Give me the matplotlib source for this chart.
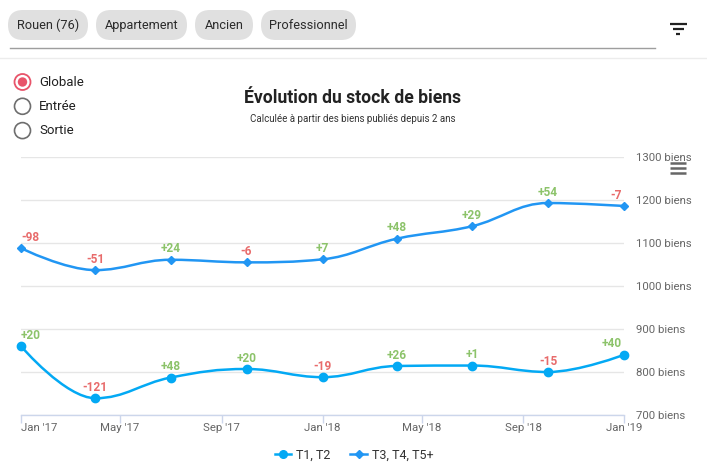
import datetime as dt
import matplotlib
matplotlib.use('Agg')
import matplotlib.pyplot as plt
import matplotlib.dates as mdates
from matplotlib.path import Path
from matplotlib.patches import PathPatch, FancyBboxPatch, Circle
from matplotlib.lines import Line2D

plt.rcParams['font.family'] = ['Roboto', 'DejaVu Sans']

# data
dates = ['2017-01-01', '2017-04-01', '2017-07-01', '2017-10-01', '2018-01-01',
         '2018-04-01', '2018-07-01', '2018-10-01', '2019-01-01']
t12 = [860, 739, 787, 807, 788, 814, 815, 800, 840]
t12_diff = ['+20', '-121', '+48', '+20', '-19', '+26', '+1', '-15', '+40']
t345 = [1088, 1037, 1061, 1055, 1062, 1110, 1139, 1193, 1186]
t345_diff = ['-98', '-51', '+24', '-6', '+7', '+48', '+29', '+54', '-7']
series_names = ['T1, T2', 'T3, T4, T5+']
y_ticks = [700, 800, 900, 1000, 1100, 1200, 1300]
x_tick_dates = ['2017-01-01', '2017-05-01', '2017-09-01', '2018-01-01',
                '2018-05-01', '2018-09-01', '2019-01-01']
x_tick_labels = ["Jan '17", "May '17", "Sep '17", "Jan '18", "May '18", "Sep '18", "Jan '19"]
chips = ['Rouen (76)', 'Appartement', 'Ancien', 'Professionnel']
radios = ['Globale', 'Entrée', 'Sortie']

W, H = 707, 476
GREEN = '#8cc36a'
RED = '#e86b6b'


def to_num(ds):
    return [mdates.date2num(dt.datetime.strptime(d, '%Y-%m-%d')) for d in ds]


def spline_path(xs, ys, sm=1.5):
    # highcharts-like spline
    n = len(xs)
    d = sm + 1
    lc = [None] * n
    rc = [None] * n
    for i in range(1, n - 1):
        px, py = xs[i], ys[i]
        lx, ly = xs[i - 1], ys[i - 1]
        nx, ny = xs[i + 1], ys[i + 1]
        lcx, lcy = (sm * px + lx) / d, (sm * py + ly) / d
        rcx, rcy = (sm * px + nx) / d, (sm * py + ny) / d
        corr = ((rcy - lcy) * (rcx - px)) / (rcx - lcx) + py - rcy
        lcy += corr
        rcy += corr
        if lcy > ly and lcy > py:
            lcy = max(ly, py); rcy = 2 * py - lcy
        elif lcy < ly and lcy < py:
            lcy = min(ly, py); rcy = 2 * py - lcy
        if rcy > ny and rcy > py:
            rcy = max(ny, py); lcy = 2 * py - rcy
        elif rcy < ny and rcy < py:
            rcy = min(ny, py); lcy = 2 * py - rcy
        lc[i] = (lcx, lcy)
        rc[i] = (rcx, rcy)
    verts = [(xs[0], ys[0])]
    codes = [Path.MOVETO]
    for i in range(1, n):
        a = rc[i - 1] or (xs[i - 1], ys[i - 1])
        b = lc[i] or (xs[i], ys[i])
        verts += [a, b, (xs[i], ys[i])]
        codes += [Path.CURVE4] * 3
    return Path(verts, codes)


fig = plt.figure(figsize=(W / 100, H / 100), dpi=100)
fig.patch.set_facecolor('white')

# page elements in pixel coords
bg = fig.add_axes([0, 0, 1, 1], zorder=0)
bg.set_xlim(0, W)
bg.set_ylim(H, 0)
bg.axis('off')

chip_x = [(8, 88), (96, 187), (195, 253), (261, 356)]
for (x0, x1), label in zip(chip_x, chips):
    bg.add_patch(FancyBboxPatch((x0, 10), x1 - x0, 30,
                                boxstyle='round,pad=0,rounding_size=15',
                                fc='#e0e0e0', ec='none'))
    bg.text((x0 + x1) / 2, 25.5, label, ha='center', va='center',
            fontsize=9.2, color='#2b2b2b')
bg.plot([10, 655], [47.5, 47.5], color='#9e9e9e', lw=1)
bg.plot([0, W], [57.5, 57.5], color='#ececec', lw=1)
for y, x0, x1 in [(24, 670, 687), (29, 673, 684), (34, 676, 680)]:
    bg.plot([x0, x1], [y, y], color='#212121', lw=1.6, solid_capstyle='butt')

for i, label in enumerate(radios):
    cy = 82 + i * 24.3
    if i == 0:
        bg.add_patch(Circle((22.5, cy), 8, fc='white', ec='#e8546a', lw=1.3))
        bg.add_patch(Circle((22.5, cy), 4.7, fc='#e8546a', ec='none'))
    else:
        bg.add_patch(Circle((22.5, cy), 8, fc='white', ec='#6e6e6e', lw=1.2))
    bg.text(39, cy, label, ha='left', va='center', fontsize=9.5, color='#212121')

bg.text(353, 98, 'Évolution du stock de biens', ha='center', va='center',
        fontsize=12.7, fontweight='bold', color='#222222')
bg.text(353, 119.5, 'Calculée à partir des biens publiés depuis 2 ans', ha='center',
        va='center', fontsize=7, color='#333333')
for y in [163, 168, 173]:
    bg.plot([670, 686], [y, y], color='#666666', lw=1.8, solid_capstyle='butt')

# chart
ax = fig.add_axes([21 / W, (H - 415) / H, 603 / W, 258 / H], zorder=1)
ax.set_facecolor('none')
xs = to_num(dates)
ax.set_xlim(xs[0], xs[-1])
ax.set_ylim(700, 1300)

for v in y_ticks:
    ax.axhline(v, color='#e6e6e6', lw=1, zorder=0)

for vals, diffs, color, marker, ms in [(t12, t12_diff, '#03a9f4', 'o', 6),
                                       (t345, t345_diff, '#2196f3', 'D', 4.3)]:
    ax.add_patch(PathPatch(spline_path(xs, vals), fill=False, ec=color, lw=1.8,
                           zorder=3, clip_on=False))
    ax.plot(xs, vals, ls='none', marker=marker, ms=ms, color=color, zorder=4,
            clip_on=False)
    for i, (x, v, d) in enumerate(zip(xs, vals, diffs)):
        ha = 'left' if i == 0 else ('right' if i == len(xs) - 1 else 'center')
        dx = -1.5 if i == len(xs) - 1 else 0
        ax.annotate(d, (x, v), xytext=(dx, 7.8), textcoords='offset points',
                    ha=ha, va='center', fontsize=8.6, fontweight='bold',
                    color=GREEN if d.startswith('+') else RED, zorder=5)

for s in ['top', 'left', 'right']:
    ax.spines[s].set_visible(False)
ax.spines['bottom'].set_color('#ccd6eb')
ax.spines['bottom'].set_linewidth(1)

ax.yaxis.tick_right()
ax.set_yticks(y_ticks)
ax.set_yticklabels([f'{v} biens' for v in y_ticks])
ax.tick_params(axis='y', length=0, pad=9, labelsize=8.2, labelcolor='#666666')

ax.set_xticks(to_num(x_tick_dates))
ax.set_xticklabels(x_tick_labels)
ax.tick_params(axis='x', length=6, width=1, color='#ccd6eb', pad=0,
               labelsize=8.2, labelcolor='#666666')
ax.get_xticklabels()[0].set_ha('left')

handles = [Line2D([], [], color='#03a9f4', marker='o', ms=5.5, lw=1.8),
           Line2D([], [], color='#2196f3', marker='D', ms=4, lw=1.8)]
fig.legend(handles, series_names, loc='center', bbox_to_anchor=(354 / W, 1 - 455 / H),
           ncol=2, frameon=False, fontsize=9, handlelength=1.3, handletextpad=0.4,
           columnspacing=1.6, labelcolor='#333333')

fig.savefig('out.png', dpi=100)
